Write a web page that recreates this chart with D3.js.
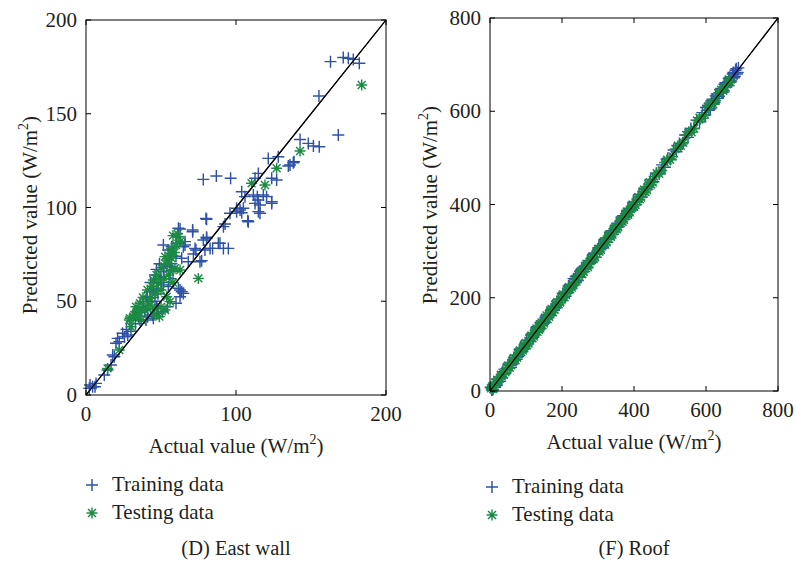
<!DOCTYPE html>
<html>
<head>
<meta charset="utf-8">
<script src="https://d3js.org/d3.v7.min.js"></script>
<style>
	body{margin:0;background:#fff;}
	text{font-family:"Liberation Serif","Times New Roman",serif;fill:#231f20;}
	.box{fill:none;stroke:#000;stroke-width:1;}
	.tick{stroke:#000;stroke-width:1;}
	.diag{stroke:#000;stroke-width:1.2;fill:none;}
	.train{stroke:#2f52a8;stroke-width:1.45;fill:none;}
	.test{stroke:#1b8b43;stroke-width:1.45;fill:none;}
</style>
</head>
<body>
<script>
// east wall: [actual, predicted]
var eastTrain = [[2.2,3.6],[4.4,4.4],[6.7,6.2],[2.7,5.3],[6,4.4],[12.2,10.7],[14.4,13.3],[16.7,16],[17.8,21.3],[18.9,20.4],
	[20,27.6],[22.2,28.4],[25.6,31.1],[27.8,32],[21.1,30.2],[24.4,32.9],[41.1,41.8],[44.4,42.7],[47.8,43.6],[51.1,44.4],
	[54.4,47.1],[60,48.9],[47.1,47.1],[48.2,43.6],[44.9,40.9],[42.7,55.1],[40.4,52.4],[38.2,49.8],[61.6,56.9],[63.8,55.1],
	[62.7,52.4],[62.7,56],[64.9,54.2],[51.6,58.7],[54.9,57.8],[51.6,65.8],[49.3,63.1],[53.8,69.3],[56,68.4],[63.8,72.9],
	[68.2,71.1],[76,71.1],[77.1,71.6],[51.6,80],[57.1,79.1],[60.4,80.9],[54.9,77.3],[66,80],[73.3,77.3],[79.3,77.3],
	[84.4,78.2],[88.2,80.9],[71.1,87.1],[80.4,83.6],[62.7,88.5],[71.1,88],[61.6,88.9],[80,94.2],[80.4,84.1],[78.2,82.7],
	[89.3,80.9],[91.6,78.2],[94.9,78.2],[66,81.8],[64.9,79.1],[72.7,78.2],[82.7,78.2],[71.6,75.2],[92.7,91.2],[91.6,89.8],
	[80.4,93.7],[107.8,93],[108.2,92.4],[102.7,98.7],[100.4,97.8],[96,96.9],[103.8,97.2],[114.9,97.8],[100.4,99.6],[104.9,99.6],
	[112.7,102.2],[116,96.9],[123.8,102.2],[103.8,108.4],[106,105.8],[111.6,106.7],[114.2,105.8],[118.2,106.7],[120.4,105.8],[114.9,104],
	[116,101.3],[123.8,103.1],[114.9,118.2],[112.7,115.6],[123.8,115.6],[127.1,114.7],[121.5,126.2],[128.2,127.1],[138.7,124.4],[136,122.7],
	[138.2,123.9],[134.9,122.1],[78.2,115],[86.9,116.8],[96.4,115.6],[142.7,136.3],[148.2,134.2],[151.6,132.8],[155.5,132.4],[168.2,138.7],
	[155.3,159.5],[163,177.8],[171.5,180],[174.9,179.6],[178.2,179],[182.2,176.9],[33,38],[36,40],[39,45],[43,46],
	[46,50],[48,54],[50,60],[45,57],[56,62],[58,66],[47,67],[55,73],[35,42],[38,47],[41,50],[44,52],
	[47,56],[50,62],[52,66],[43,60],[46,64],[49,70],[57,70],[60,74],[37,44],[40,40],[30,34],[27,35]];
var eastTest = [[14.4,14.2],[22.2,24],[30,36.4],[28.9,40],[32.2,42.7],[33.3,47.1],[45.5,42.7],[48.9,41.8],[36,48.9],[39.3,45.3],
	[33.8,44.4],[31.6,41.8],[29.3,40.9],[52.7,45.3],[53.8,52.4],[56,49.8],[42.7,51.6],[44.9,61.3],[48.2,59.6],[59.3,67.6],
	[62.7,66.7],[52.7,73.8],[54.9,72],[56,75.6],[61.6,84.4],[57.1,78.2],[74.9,62.2],[110.4,112.9],[119.3,112],[127.1,120.9],
	[142.7,130.1],[183.8,165.3],[50,56],[46,54],[58,60],[55,64],[40,47],[60,80],[63,82],[38,52],
	[41,56],[44,58],[47,64],[50,68],[53,70],[57,73],[59,76],[35,45],[37,40],[43,48],
	[50,47],[58,85],[61,86],[34,42],[52,62],[56,66],[46,46]];

// roof: [actual, predicted]
var roofTrain = [[5,2],[10,14],[14,8],[20,25],[28,21],[35,41],[42,37],[50,56],[58,51],[66,71],
	[74,68],[82,89],[90,84],[98,103],[106,101],[114,120],[120,115],[128,135],[134,127],[140,147],
	[147,143],[155,161],[162,157],[170,175],[178,173],[186,192],[194,189],[202,209],[210,203],[218,225],
	[226,221],[232,241],[238,245],[244,237],[250,257],[256,263],[262,256],[270,275],[278,274],[286,293],
	[294,287],[302,307],[310,306],[318,325],[326,319],[334,341],[342,336],[350,355],[358,353],[366,373],
	[374,369],[382,387],[390,386],[398,405],[406,400],[414,421],[422,416],[430,435],[438,433],[446,453],
	[454,449],[462,467],[470,466],[478,485],[486,480],[494,499],[502,497],[510,517],[518,513],[526,531],
	[534,530],[542,549],[550,544],[558,563],[566,563],[574,581],[582,577],[590,597],[598,592],[606,613],
	[612,605],[618,626],[624,619],[630,637],[636,632],[642,649],[648,641],[654,661],[660,655],[666,673],
	[670,665],[676,683],[680,675],[684,691],[688,683],[690,693],
	[2,8],[8,3],[18,12],[25,30],[33,28],[45,48],[54,60],[62,58],[70,76],[78,74],
	[86,92],[94,90],[102,108],[110,106],[118,124],[124,121],[131,138],[137,132],[144,150],[150,146],
	[158,164],[166,162],[174,180],[182,178],[190,196],[198,194],[206,212],[214,210],[222,228],[229,226],
	[236,232],[242,248],[248,244],[254,260],[260,266],[266,262],[274,280],[282,278],[290,296],[298,294],
	[306,312],[314,310],[322,328],[330,326],[338,344],[346,342],[354,360],[362,358],[370,376],[378,374],
	[386,392],[394,390],[600,608],[608,602],[615,622],[621,616],[627,633],[633,628],[639,646],[645,640],
	[651,658],[657,652],[663,670],[668,662],[674,680],[678,672],[682,688],[686,680]];
var roofTest = [[3,6],[9,4],[16,19],[24,21],[31,35],[39,36],[47,51],[55,50],[63,67],[71,66],
	[79,83],[87,83],[95,99],[103,98],[111,115],[118,113],[125,130],[132,127],[139,143],[146,141],
	[153,157],[160,154],[167,172],[175,169],[183,187],[191,186],[199,203],[207,201],[215,219],[223,218],
	[231,227],[240,235],[248,252],[256,251],[264,268],[272,266],[280,284],[288,283],[296,300],[304,299],
	[312,316],[320,314],[328,332],[336,331],[344,348],[352,347],[360,364],[368,363],[376,380],[384,378],
	[392,396],[400,395],[408,412],[416,411],[424,428],[432,427],[440,444],[448,443],[456,460],[470,466],
	[485,490],[500,496],[515,519],[530,526],[545,549],[560,555],[575,580],[590,585],[605,610],[620,615],
	[635,640],[648,644],[660,664],[668,662],
	[6,10],[12,8],[20,24],[28,26],[35,39],[43,40],[51,55],[59,55],[67,71],[75,71],
	[83,87],[91,87],[99,103],[107,102],[115,119],[122,117],[129,134],[136,131],[143,147],[150,145],
	[157,162],[164,159],[171,176],[179,174],[187,191],[195,190],[203,207],[211,206],[219,223],[227,222],
	[235,239],[244,240],[252,256],[260,255],[268,272],[276,271],[284,288],[292,287],[300,304],[308,303],
	[316,320],[324,319],[332,336],[340,335],[348,352],[356,351],[364,368],[372,367],[380,384],[388,383],
	[396,400],[404,399],[412,416],[420,415],[428,432],[436,431],[444,448],[452,447],[463,467],[477,473],
	[492,496],[507,503],[522,526],[537,533],[552,556],[567,563],[582,586],[597,593],[612,616],[627,623],
	[642,646],[655,651],[664,668]];

var eastTicks = [0, 50, 100, 150, 200];
var eastXTicks = [0, 100, 200];
var roofTicks = [0, 200, 400, 600, 800];
var legendLabels = ["Training data", "Testing data"];

var svg = d3.select("body").append("svg").attr("width", 796).attr("height", 562);

function plus(s){
	return "M" + (-s) + ",0H" + s + "M0," + (-s) + "V" + s;
}
function star(s){
	var d = s * 0.72;
	return "M" + (-s) + ",0H" + s + "M0," + (-s) + "V" + s +
		"M" + (-d) + "," + (-d) + "L" + d + "," + d + "M" + (-d) + "," + d + "L" + d + "," + (-d);
}

function panel(p){
	var x = d3.scaleLinear().domain(p.domain).range([p.left, p.right]);
	var y = d3.scaleLinear().domain(p.domain).range([p.bottom, p.top]);
	var g = svg.append("g");

	// diagonal
	g.append("line").attr("class", "diag")
		.attr("x1", x(p.domain[0])).attr("y1", y(p.domain[0]))
		.attr("x2", x(p.domain[1])).attr("y2", y(p.domain[1]));

	g.append("g").selectAll("path").data(p.train).enter().append("path")
		.attr("class", "train")
		.attr("transform", function(d){ return "translate(" + x(d[0]) + "," + y(d[1]) + ")"; })
		.attr("d", plus(6));
	g.append("g").selectAll("path").data(p.test).enter().append("path")
		.attr("class", "test")
		.attr("transform", function(d){ return "translate(" + x(d[0]) + "," + y(d[1]) + ")"; })
		.attr("d", star(5.5));

	// diagonal again on top, it shows through the marks in the reference
	g.append("line").attr("class", "diag")
		.attr("x1", x(p.domain[0])).attr("y1", y(p.domain[0]))
		.attr("x2", x(p.domain[1])).attr("y2", y(p.domain[1]));

	// box + inside ticks on all sides
	g.append("rect").attr("class", "box")
		.attr("x", p.left).attr("y", p.top)
		.attr("width", p.right - p.left).attr("height", p.bottom - p.top);
	p.xticks.forEach(function(t){
		g.append("line").attr("class", "tick").attr("x1", x(t)).attr("x2", x(t)).attr("y1", p.bottom).attr("y2", p.bottom - 5);
		g.append("line").attr("class", "tick").attr("x1", x(t)).attr("x2", x(t)).attr("y1", p.top).attr("y2", p.top + 5);
		g.append("text").attr("x", x(t)).attr("y", p.bottom + 26).attr("text-anchor", "middle")
			.style("font-size", "21px").text(t);
	});
	p.yticks.forEach(function(t){
		g.append("line").attr("class", "tick").attr("y1", y(t)).attr("y2", y(t)).attr("x1", p.left).attr("x2", p.left + 5);
		g.append("line").attr("class", "tick").attr("y1", y(t)).attr("y2", y(t)).attr("x1", p.right).attr("x2", p.right - 5);
		g.append("text").attr("x", p.left - 9).attr("y", y(t) + 7).attr("text-anchor", "end")
			.style("font-size", "21px").text(t);
	});

	// axis titles
	var xt = g.append("text").attr("x", (p.left + p.right) / 2).attr("y", p.bottom + 58)
		.attr("text-anchor", "middle").style("font-size", "21px");
	xt.append("tspan").text("Actual value (W/m");
	xt.append("tspan").attr("dy", -9).style("font-size", "14px").text("2");
	xt.append("tspan").attr("dy", 9).text(")");

	var yt = g.append("text").attr("transform", "translate(" + p.ytitleX + "," + p.ytitleY + ") rotate(-90)")
		.attr("text-anchor", "middle").style("font-size", "21px");
	yt.append("tspan").text("Predicted value (W/m");
	yt.append("tspan").attr("dy", -9).style("font-size", "14px").text("2");
	yt.append("tspan").attr("dy", 9).text(")");

	// legend
	var leg = g.append("g");
	leg.append("path").attr("class", "train")
		.attr("transform", "translate(" + p.legX + "," + (p.legY - 6) + ")").attr("d", plus(6));
	leg.append("path").attr("class", "test")
		.attr("transform", "translate(" + p.legX + "," + (p.legY + 22) + ")").attr("d", star(5.5));
	legendLabels.forEach(function(l, i){
		leg.append("text").attr("x", p.legX + 20).attr("y", p.legY + i * 27.5)
			.style("font-size", "21px").text(l);
	});

	g.append("text").attr("x", (p.left + p.right) / 2).attr("y", 555)
		.attr("text-anchor", "middle").style("font-size", "20.5px").text(p.caption);
}

panel({domain: [0, 200], left: 86, right: 386, top: 20, bottom: 395,
	train: eastTrain, test: eastTest, xticks: eastXTicks, yticks: eastTicks,
	ytitleX: 37, ytitleY: 215, legX: 92, legY: 491, caption: "(D) East wall"});

panel({domain: [0, 800], left: 490, right: 778, top: 18, bottom: 391,
	train: roofTrain, test: roofTest, xticks: roofTicks, yticks: roofTicks,
	ytitleX: 437, ytitleY: 205, legX: 492, legY: 493, caption: "(F) Roof"});
</script>
</body>
</html>
